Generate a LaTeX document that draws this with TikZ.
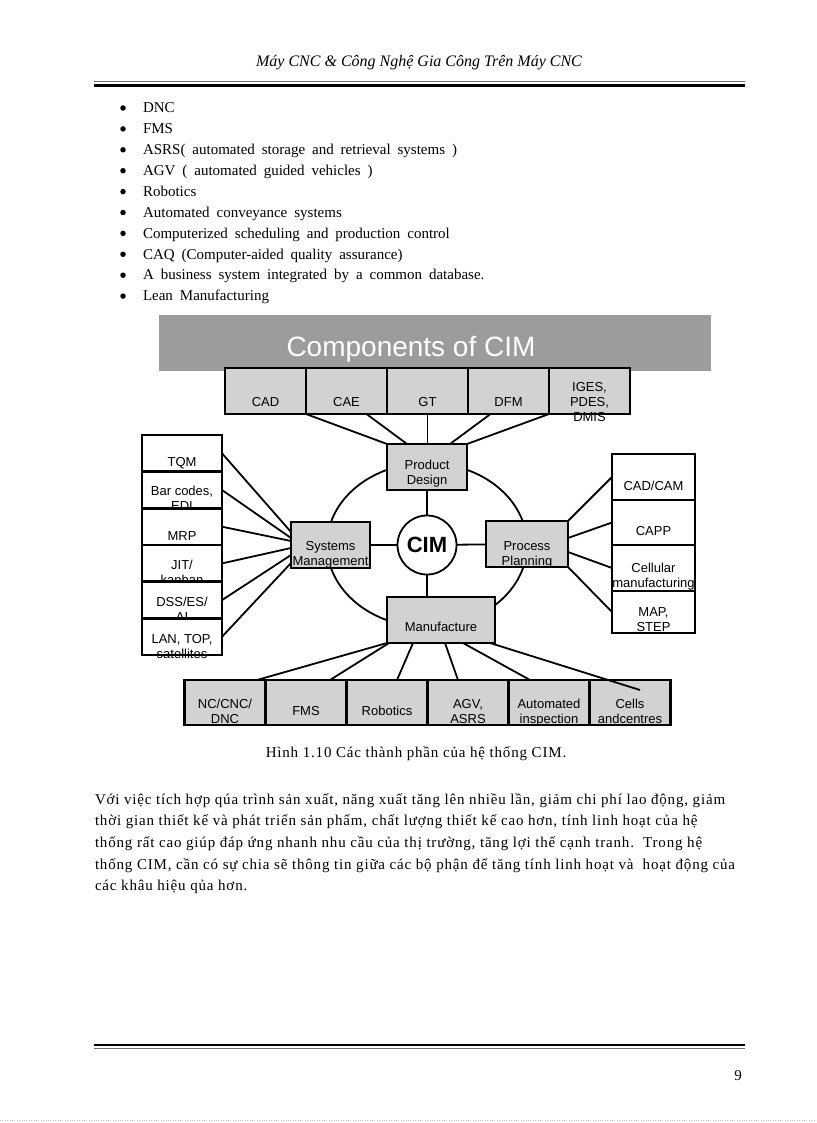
\documentclass[tikz,border=0pt]{standalone}
\usepackage{fontspec}
\setmainfont{Liberation Serif}
\newfontfamily\arialfont{Liberation Sans}
\newfontfamily\widefont[LetterSpace=5.5]{Liberation Serif}
\newfontfamily\listfont[WordSpace=1.85]{Liberation Serif}
\usetikzlibrary{positioning}
\definecolor{bargray}{RGB}{156,156,156}
\definecolor{boxgray}{RGB}{210,210,210}
\definecolor{rulegray}{RGB}{110,110,110}
% labels hang from their first line
\newcommand\stacklines[1]{\begin{tabular}[t]{@{}c@{}}#1\end{tabular}}

\begin{document}
\begin{tikzpicture}[
    x=1pt, y=-1pt,
    every node/.style={inner sep=0pt, outer sep=0pt},
    comp/.style={rectangle, draw, line width=2.6pt, fill=boxgray, minimum width=81pt, minimum height=46pt,
        font=\arialfont\fontsize{13}{15}\selectfont},
    sidebox/.style={comp, fill=white, minimum width=80pt},
    textdrop/.style={text height=#1, text depth=0pt},
    link/.style={line width=1.8pt},
    listtext/.style={font=\listfont\fontsize{15}{21}\selectfont},
    bodytext/.style={font=\widefont\fontsize{15}{21.7}\selectfont},
    bulletdot/.style={circle, fill, minimum size=5.5pt}
]
\useasboundingbox (0,0) rectangle (816,1123);

% page header
\node[font=\fontsize{16}{16}\selectfont\itshape, anchor=base] (head) at (419,67) {Máy CNC \& Công Nghệ Gia Công Trên Máy CNC};
\draw[line width=1.2pt, rulegray] (94,81.7) -- (745,81.7);
\draw[line width=2.8pt] (94,85.3) -- (745,85.3);

% bullet list
\foreach \txt [count=\i] in {DNC, FMS, ASRS( automated storage and retrieval systems ),
    AGV ( automated guided vehicles ), Robotics, Automated conveyance systems,
    Computerized scheduling and production control, CAQ (Computer-aided quality assurance),
    A business system integrated by a common database., Lean Manufacturing} {
    \node[bulletdot] (dot\i) at (123, {108+20.9*(\i-1)}) {};
    \node[listtext, anchor=base west] (item\i) at (143, {112.7+20.9*(\i-1)}) {\txt};
}

% title bar
\node[fill=bargray, minimum width=552pt, minimum height=56pt] (bar) at (435,343) {};
\node[font=\arialfont\fontsize{28}{28}\selectfont, text=white, anchor=base] (title) at (411,356) {Components of CIM};

% ring behind the hub
\coordinate (hub) at (427,545);
\draw[link] (hub) ellipse [x radius=100pt, y radius=82pt];

% design tools
\foreach \nm/\cx/\txt/\dr in {cad/265.5/CAD/30pt, cae/346.5/CAE/30pt, gt/427.5/GT/30pt,
    dfm/508.5/DFM/30pt, iges/589.5/{IGES,\\PDES,\\DMIS}/0pt}
    \node[comp, textdrop=\dr] (\nm) at (\cx,391) {\stacklines{\txt}};

% management tools
\foreach \txt/\dr [count=\i] in {TQM/26.8pt, {Bar codes,\\EDI}/10pt, MRP/26.6pt, {JIT/\\kanban}/12pt,
    {DSS/ES/\\AI}/13.4pt, {LAN, TOP,\\satellites}/12.6pt}
    \node[sidebox, minimum height=36.7pt, textdrop=\dr] (sys\i) at (182, {453.3+36.7*(\i-1)}) {\stacklines{\txt}};

% planning tools
\foreach \txt/\cy/\hh/\dr [count=\i] in {{CAD/CAM}/477/46pt/26pt, CAPP/522.5/45pt/25pt,
    {Cellular\\manufacturing}/568/46pt/8.6pt, {MAP,\\STEP}/612/42pt/9.4pt}
    \node[sidebox, minimum width=83pt, minimum height=\hh, textdrop=\dr] (plan\i) at (653.5,\cy) {\stacklines{\txt}};

% shop floor
\foreach \txt/\dr [count=\i] in {{NC/CNC/\\DNC}/11.6pt, FMS/25pt, Robotics/25pt, {AGV,\\ASRS}/11.6pt,
    {Automated\\inspection}/11.6pt, {Cells\\andcentres}/11.6pt}
    \node[comp, minimum height=45pt, textdrop=\dr] (mfg\i) at ({225+81*(\i-1)}, 702.5) {\stacklines{\txt}};

% hub
\node[comp, minimum width=80pt, textdrop=4pt] (design) at (427,467) {\stacklines{Product\\Design}};
\node[comp, minimum width=79pt, textdrop=10pt] (sysmgmt) at (330.5,545) {\stacklines{Systems\\Management}};
\node[comp, minimum width=82pt, textdrop=12pt] (planning) at (527,544) {\stacklines{Process\\Planning}};
\node[comp, minimum width=108pt, textdrop=23.4pt] (manuf) at (441,620) {\stacklines{Manufacture}};
\node[circle, draw, line width=1.8pt, fill=white, minimum size=59pt,
    font=\arialfont\bfseries\fontsize{22}{22}\selectfont] (cim) at (hub) {CIM};

% spokes
\draw[link] (design) -- (cim);
\draw[link] (cim.south) -- (cim.south |- manuf.north);
\draw[link] (sysmgmt) -- (cim);
\draw[link] (cim) -- (planning);

% fan-in lines
\draw[link] (cad.south east) -- (design.north west);
\draw[link] ([xshift=20pt]cae.south) -- ([xshift=-20pt]design.north);
\draw[link] (gt.south) -- (gt.south |- design.north);
\draw[link] ([xshift=-18pt]dfm.south) -- ([xshift=23pt]design.north);
\draw[link] (iges.south west) -- (design.north east);
\foreach \i/\off in {1/13pt, 2/7pt, 3/4pt, 4/-3pt, 5/-10pt, 6/-18pt}
    \draw[link] (sys\i.east) -- ([yshift=\off]sysmgmt.west);
\foreach \i/\off in {1/23pt, 2/6pt, 3/-8pt, 4/-23pt}
    \draw[link] ([yshift=\off]planning.east) -- (plan\i.west);
\foreach \i/\from/\to in {1/-54pt/32pt, 2/-52pt/24pt, 3/-28pt/10pt, 4/4pt/-10pt, 5/22pt/-19pt}
    \draw[link] ([xshift=\from]manuf.south) -- ([xshift=\to]mfg\i.north);
\draw[link] ([xshift=49pt]manuf.south) -- ([xshift=10pt, yshift=-10pt]mfg6.north);

% caption and text
\node[bodytext, anchor=base] (caption) at (416,757) {Hình 1.10 Các thành phần của hệ thống CIM.};
\node[bodytext, anchor=base west, align=left] (para) at (95,890.8) {%
Với việc tích hợp qúa trình sản xuất, năng xuất tăng lên nhiều lần, giảm chi phí lao động, giảm\\
thời gian thiết kế và phát triển sản phẩm, chất lượng thiết kế cao hơn, tính linh hoạt của hệ\\
thống rất cao giúp đáp ứng nhanh nhu cầu của thị trường, tăng lợi thế cạnh tranh.\ \ Trong hệ\\
thống CIM, cần có sự chia sẽ thông tin giữa các bộ phận để tăng tính linh hoạt và\ \ hoạt động của\\
các khâu hiệu qủa hơn.};

% page footer
\draw[line width=2.8pt] (94,1045) -- (745,1045);
\draw[line width=1.2pt, rulegray] (94,1048.5) -- (745,1048.5);
\node[bodytext, anchor=base] (pageno) at (738,1080) {9};
\draw[gray!50, dotted] (0,1120) -- (816,1120);
\end{tikzpicture}
\end{document}
